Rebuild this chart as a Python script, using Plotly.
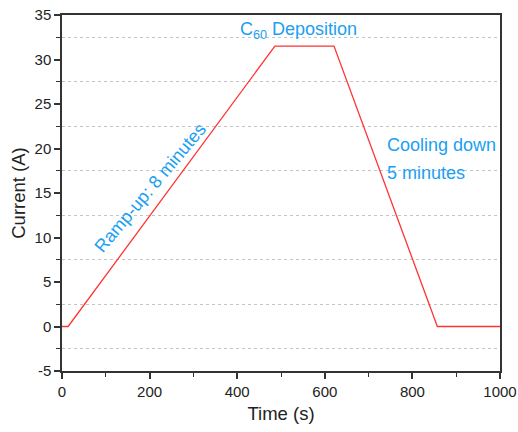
import plotly.graph_objects as go

time_s = [0, 14, 486, 621, 857, 1000]
current_a = [0, 0, 31.5, 31.5, 0, 0]

y_tickvals = [-5, 0, 5, 10, 15, 20, 25, 30, 35]
y_ticktext = ["-5", "0", "5", "10", "15", "20", "25", "30", "35"]

labels = ["C<sub>60</sub> Deposition", "Cooling down", "5 minutes", "Ramp-up: 8 minutes"]
label_x = [540, 737, 737, 201]
label_y = [33.3, 20.4, 17.3, 15.6]

FONT = "Liberation Sans, Arial, sans-serif"
BLUE = "#1aa0f2"

fig = go.Figure()
fig.add_trace(go.Scatter(x=time_s, y=current_a, mode="lines",
                         line=dict(color="#ff3333", width=1.3), showlegend=False))

fig.add_annotation(x=label_x[0], y=label_y[0], text=labels[0], showarrow=False,
                   font=dict(size=18, color=BLUE, family=FONT))
fig.add_annotation(x=label_x[1], y=label_y[1], text=labels[1], showarrow=False,
                   xanchor="left", font=dict(size=18, color=BLUE, family=FONT))
fig.add_annotation(x=label_x[2], y=label_y[2], text=labels[2], showarrow=False,
                   xanchor="left", font=dict(size=18, color=BLUE, family=FONT))
fig.add_annotation(x=label_x[3], y=label_y[3], text=labels[3], showarrow=False,
                   textangle=-50, font=dict(size=18, color=BLUE, family=FONT))

axis_common = dict(showline=True, linecolor="#333333", linewidth=1.5, mirror=True,
                   ticks="outside", ticklen=6, tickwidth=1.5, tickcolor="#333333",
                   showgrid=False, zeroline=False, automargin=False,
                   tickfont=dict(size=15, family=FONT, color="#222222"),
                   title_font=dict(size=18.5, family=FONT, color="#222222"))

fig.update_xaxes(range=[0, 1000], dtick=200, tick0=0,
                 title_text="Time (s)", title_standoff=8,
                 minor=dict(dtick=100, tick0=0, ticks="outside", ticklen=4,
                            tickwidth=1.2, tickcolor="#333333", showgrid=False),
                 **axis_common)
fig.update_yaxes(range=[-5, 35], tickmode="array", tickvals=y_tickvals, ticktext=y_ticktext,
                 title_text="Current (A)", title_standoff=4,
                 minor=dict(dtick=5, tick0=2.5, ticks="outside", ticklen=4,
                            tickwidth=1.2, tickcolor="#333333", showgrid=True,
                            gridcolor="#c4c4c4", griddash="dot", gridwidth=1),
                 **axis_common)

fig.update_layout(width=518, height=432, plot_bgcolor="white", paper_bgcolor="white",
                  margin=dict(l=62, r=18, t=15, b=61),
                  font=dict(family=FONT))

fig.write_html("out.html")
